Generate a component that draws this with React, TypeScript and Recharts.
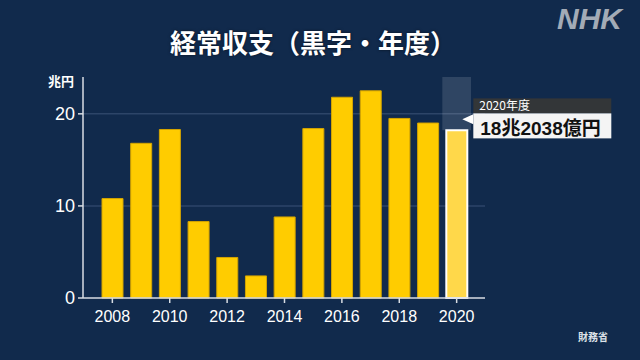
import {
  BarChart,
  Bar,
  Cell,
  XAxis,
  YAxis,
  CartesianGrid,
  ReferenceArea,
} from "recharts";

const years = [
  "2008", "2009", "2010", "2011", "2012", "2013", "2014",
  "2015", "2016", "2017", "2018", "2019", "2020",
];

const surplus = [
  10.8, 16.8, 18.3, 8.3, 4.4, 2.4, 8.8,
  18.4, 21.8, 22.5, 19.5, 19.0, 18.2038,
];

const yTicks = [0, 10, 20];
const gridValues = [10, 20];

const data = years.map((year, i) => ({ year, value: surplus[i] }));

const BG = "#112a4c";
const BAR = "#ffcc00";
const LAST_BAR = "#ffd84a";
const AXIS = "#d8dde3";
const NUM_FONT = "'Liberation Sans', Arial, 'Noto Sans CJK JP', sans-serif";
const JP_FONT = "'Noto Sans CJK JP', 'Liberation Sans', sans-serif";

const lastIndex = years.length - 1;

function Note(props: any) {
  const { x, y, width, index, value } = props;
  if (index !== lastIndex && value !== surplus[lastIndex]) return null;
  const left = x + width + 6;
  const w = 138;
  return (
    <g>
      <polygon
        points={`${left},${y - 16} ${left},${y - 6} ${x + width - 5},${y - 11}`}
        fill="#ffffff"
      />
      <rect x={left} y={y - 32} width={w} height={15} fill="#333638" />
      <rect x={left} y={y - 17} width={w} height={25} fill="#f4f4f4" />
      <text
        x={left + 6}
        y={y - 20}
        fill="#ffffff"
        fontSize={12}
        fontFamily={JP_FONT}
      >
        2020年度
      </text>
      <text
        x={left + 7}
        y={y + 5}
        fill="#111111"
        fontSize={19}
        fontWeight="bold"
        fontFamily={NUM_FONT}
      >
        18兆2038億円
      </text>
    </g>
  );
}

export default function App() {
  return (
    <div
      style={{
        position: "absolute",
        left: 0,
        top: 0,
        width: 640,
        height: 360,
        background: BG,
        overflow: "hidden",
      }}
    >
      <div
        style={{
          position: "absolute",
          left: 0,
          width: 626,
          top: 24,
          textAlign: "center",
          color: "#ffffff",
          fontFamily: JP_FONT,
          fontWeight: "bold",
          fontSize: 26,
          lineHeight: "36px",
          textShadow: "0 0 3px rgba(0,0,0,0.6)",
        }}
      >
        経常収支（黒字・年度）
      </div>
      <div
        style={{
          position: "absolute",
          left: 557,
          top: 2,
          color: "#a3abb6",
          fontFamily: NUM_FONT,
          fontWeight: "bold",
          fontStyle: "italic",
          fontSize: 30,
          lineHeight: "34px",
        }}
      >
        NHK
      </div>
      <div
        style={{
          position: "absolute",
          left: 48,
          top: 72,
          color: "#ffffff",
          fontFamily: JP_FONT,
          fontWeight: "bold",
          fontSize: 13,
          lineHeight: "18px",
        }}
      >
        兆円
      </div>
      <div
        style={{
          position: "absolute",
          left: 578,
          top: 330,
          color: "#dde2e8",
          fontFamily: JP_FONT,
          fontWeight: "bold",
          fontSize: 10,
          lineHeight: "14px",
        }}
      >
        財務省
      </div>
      <div style={{ position: "absolute", left: 0, top: 0 }}>
        <BarChart
          width={640}
          height={360}
          data={data}
          margin={{ top: 77, right: 155, bottom: 32, left: 0 }}
          barSize={21}
        >
          <CartesianGrid
            vertical={false}
            horizontalValues={gridValues}
            stroke="#2d4568"
            strokeWidth={1.5}
          />
          <ReferenceArea
            x1="2020"
            x2="2020"
            y1={surplus[lastIndex]}
            y2={24}
            fill="#ffffff"
            fillOpacity={0.13}
            stroke="none"
          />
          <XAxis
            dataKey="year"
            interval={1}
            padding={{ left: 15, right: 14 }}
            height={30}
            tickSize={5}
            tickMargin={8}
            stroke={AXIS}
            strokeWidth={1.5}
            tick={{ fill: "#ffffff", fontSize: 16, fontFamily: NUM_FONT }}
          />
          <YAxis
            domain={[0, 24]}
            ticks={yTicks}
            width={83}
            tickSize={5}
            tickMargin={3}
            stroke={AXIS}
            strokeWidth={1.5}
            tick={{ fill: "#ffffff", fontSize: 18, fontFamily: NUM_FONT }}
          />
          <Bar
            dataKey="value"
            isAnimationActive={false}
            label={<Note />}
          >
            {data.map((d, i) => (
              <Cell
                key={d.year}
                fill={i === lastIndex ? LAST_BAR : BAR}
                stroke={i === lastIndex ? "#ffffff" : "#d4a400"}
                strokeWidth={i === lastIndex ? 2 : 1}
              />
            ))}
          </Bar>
        </BarChart>
      </div>
    </div>
  );
}
